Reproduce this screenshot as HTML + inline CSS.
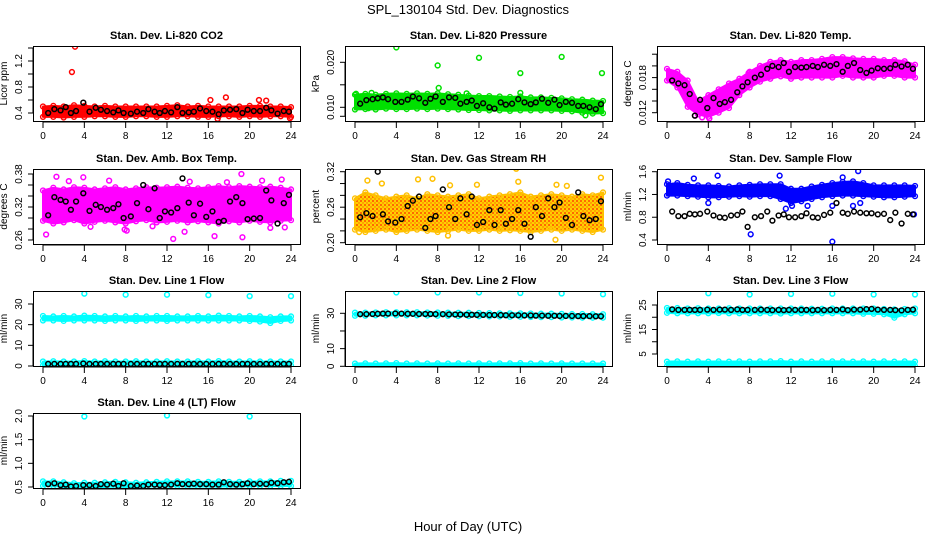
<!DOCTYPE html>
<html><head><meta charset="utf-8">
<style>
body{margin:0;background:#fff;}
svg{display:block;font-family:"Liberation Sans",Arial,sans-serif;}
.t{font-weight:bold;font-size:11px;text-anchor:middle;}
.tl{font-size:10px;text-anchor:middle;}
</style></head>
<body>
<svg id="c" width="936" height="540" viewBox="0 0 936 540">
<defs>
<pattern id="rhpat" width="4" height="4" patternUnits="userSpaceOnUse"><rect width="4" height="4" fill="#ffd000"/><circle cx="1" cy="1" r="0.9" fill="#ff2000"/><circle cx="3" cy="3" r="0.7" fill="#ff6000"/></pattern>
</defs>
<text x="468" y="14" font-size="13" text-anchor="middle">SPL_130104  Std. Dev. Diagnostics</text>
<text x="468" y="531" font-size="13" text-anchor="middle">Hour of Day (UTC)</text>
</svg>
<script>
const bandHours=[0,1,2,3,4,5,6,7,8,9,10,11,12,13,14,15,16,17,18,19,20,21,22,23,24];
const blackHours=[0.5,1.1,1.7,2.2,2.7,3.2,3.9,4.5,5.1,5.6,6.2,6.8,7.3,7.8,8.5,9.1,9.7,10.2,10.8,11.3,11.8,12.4,13,13.5,14.1,14.6,15.2,15.8,16.4,17,17.5,18.1,18.7,19.3,19.8,20.4,21,21.6,22.1,22.7,23.3,23.8];
const outlierHours4=[4,8,12,16,20,24];
const co2Lo=[0.34,0.34,0.33,0.34,0.34,0.35,0.35,0.34,0.34,0.35,0.35,0.34,0.34,0.35,0.35,0.34,0.34,0.35,0.35,0.34,0.35,0.34,0.35,0.35,0.34];
const co2Hi=[0.50,0.51,0.50,0.52,0.51,0.50,0.51,0.50,0.50,0.50,0.50,0.50,0.51,0.52,0.50,0.51,0.50,0.50,0.50,0.50,0.51,0.51,0.50,0.50,0.49];
const co2OutH=[2.8,3.1,16.2,17.7,20.9,21.6,16.9,23.9];
const co2OutV=[1.03,1.42,0.60,0.64,0.60,0.59,0.31,0.32];
const co2Black=[0.40,0.46,0.44,0.49,0.40,0.43,0.56,0.42,0.48,0.45,0.43,0.41,0.44,0.40,0.39,0.42,0.40,0.46,0.42,0.40,0.43,0.41,0.49,0.40,0.41,0.42,0.47,0.43,0.42,0.38,0.44,0.45,0.46,0.40,0.45,0.43,0.43,0.48,0.44,0.39,0.43,0.42];
const prLo=[0.0095,0.0096,0.0095,0.0097,0.0096,0.0096,0.0097,0.0096,0.0097,0.0096,0.0095,0.0094,0.0094,0.0093,0.0093,0.0092,0.0093,0.0093,0.0093,0.0093,0.0092,0.0091,0.0088,0.0086,0.0087];
const prHi=[0.0128,0.0130,0.0128,0.0130,0.0131,0.0130,0.0131,0.0130,0.0131,0.0129,0.0128,0.0126,0.0125,0.0125,0.0124,0.0123,0.0124,0.0122,0.0122,0.0121,0.0120,0.0118,0.0117,0.0115,0.0114];
const prOutH=[0.1,1.6,4.0,8.0,8.1,10.8,12.0,16.0,16.0,20.0,22.3,23.9,1.3];
const prOutV=[0.0130,0.0132,0.0233,0.0193,0.0143,0.0131,0.0210,0.0176,0.0132,0.0212,0.0082,0.0176,0.0098];
const prBlack=[0.0108,0.0116,0.0118,0.0120,0.0122,0.0118,0.0112,0.0112,0.0117,0.0124,0.0120,0.0110,0.0119,0.0124,0.0112,0.0122,0.0121,0.0108,0.0112,0.0115,0.0103,0.0109,0.0100,0.0097,0.0111,0.0106,0.0108,0.0118,0.0111,0.0107,0.0111,0.0119,0.0110,0.0117,0.0105,0.0112,0.0110,0.0103,0.0103,0.0100,0.0096,0.0107];
const tmLo=[0.0175,0.0163,0.0130,0.0117,0.0113,0.0120,0.0128,0.0150,0.0163,0.0173,0.0178,0.0182,0.0178,0.0180,0.0180,0.0180,0.0180,0.0183,0.0180,0.0180,0.0180,0.0183,0.0183,0.0180,0.0180];
const tmHi=[0.0195,0.0190,0.0175,0.0140,0.0150,0.0160,0.0170,0.0178,0.0190,0.0200,0.0207,0.0210,0.0207,0.0210,0.0210,0.0212,0.0215,0.0215,0.0213,0.0212,0.0212,0.0210,0.0210,0.0208,0.0202];
const tmOutH=[2.7,5.6,7.9,3.4,4.1];
const tmOutV=[0.0115,0.0160,0.0188,0.0112,0.0110];
const tmBlack=[0.0175,0.0170,0.0167,0.0152,0.0115,0.0142,0.0128,0.0145,0.0135,0.0138,0.0142,0.0155,0.0165,0.0172,0.0180,0.0185,0.0195,0.0200,0.0198,0.0205,0.0190,0.0198,0.0197,0.0198,0.0200,0.0198,0.0202,0.0200,0.0203,0.0190,0.0200,0.0205,0.0193,0.0188,0.0192,0.0196,0.0195,0.0196,0.0202,0.0199,0.0202,0.0195];
const abLo=[0.295,0.290,0.292,0.296,0.290,0.293,0.295,0.292,0.290,0.294,0.296,0.292,0.293,0.295,0.292,0.294,0.292,0.290,0.294,0.292,0.295,0.293,0.292,0.295,0.296];
const abHi=[0.350,0.355,0.352,0.356,0.355,0.352,0.354,0.356,0.352,0.354,0.356,0.355,0.356,0.357,0.355,0.354,0.356,0.358,0.356,0.358,0.357,0.356,0.357,0.355,0.352];
const abOutH=[0.3,1.3,3.9,4.6,7.9,8.1,10.6,12.6,13.7,16.6,19.3,19.2,22,23.4,23.1,2.5,6.4,14.2,17.8,21.2];
const abOutV=[0.270,0.375,0.374,0.284,0.279,0.277,0.285,0.262,0.275,0.267,0.265,0.380,0.282,0.283,0.370,0.367,0.368,0.366,0.365,0.368];
const abBlack=[0.305,0.338,0.333,0.330,0.315,0.330,0.345,0.313,0.324,0.320,0.315,0.318,0.325,0.300,0.303,0.327,0.360,0.316,0.354,0.300,0.312,0.310,0.318,0.372,0.328,0.305,0.326,0.302,0.312,0.293,0.295,0.330,0.338,0.327,0.298,0.299,0.300,0.350,0.332,0.290,0.327,0.342];
const rhLo=[0.222,0.218,0.220,0.222,0.218,0.220,0.222,0.220,0.218,0.220,0.222,0.220,0.220,0.222,0.220,0.221,0.220,0.218,0.220,0.222,0.220,0.222,0.220,0.218,0.222];
const rhHi=[0.275,0.285,0.280,0.275,0.278,0.280,0.275,0.282,0.280,0.278,0.280,0.282,0.275,0.278,0.280,0.282,0.285,0.278,0.280,0.282,0.280,0.278,0.282,0.280,0.285];
const rhOutH=[1.2,2.6,6.1,7.5,9.2,11.8,15.6,15.8,19.5,20.5,23.8,0.4,19.4,9.0];
const rhOutV=[0.305,0.300,0.307,0.308,0.297,0.298,0.325,0.303,0.298,0.296,0.310,0.218,0.205,0.212];
const rhBlack=[0.243,0.250,0.245,0.320,0.248,0.236,0.234,0.240,0.262,0.271,0.278,0.225,0.240,0.245,0.290,0.260,0.240,0.275,0.248,0.278,0.230,0.235,0.255,0.230,0.255,0.232,0.240,0.255,0.232,0.210,0.260,0.245,0.275,0.260,0.268,0.242,0.230,0.285,0.245,0.238,0.240,0.270];
const sfLo=[1.18,1.18,1.17,1.16,1.15,1.15,1.16,1.17,1.16,1.17,1.17,1.12,1.05,1.08,1.12,1.15,1.17,1.18,1.18,1.17,1.16,1.15,1.15,1.16,1.17];
const sfHi=[1.38,1.40,1.37,1.36,1.36,1.35,1.34,1.36,1.37,1.38,1.38,1.38,1.30,1.30,1.34,1.37,1.40,1.42,1.43,1.40,1.36,1.36,1.36,1.36,1.35];
const sfOutH=[0.1,2.6,4.9,10.9,8.1,16.0,18.5,17.0,4.0,12.1,11.5,16.0,18.0,23.9,13.6,18.7];
const sfOutV=[1.43,1.48,1.53,1.53,0.50,0.37,1.61,1.50,1.05,1.00,0.95,1.00,1.00,0.85,1.00,1.05];
const sfBlack=[0.90,0.82,0.82,0.86,0.85,0.86,0.90,0.83,0.80,0.79,0.83,0.84,0.90,0.63,0.80,0.82,0.90,0.74,0.83,0.85,0.80,0.80,0.82,0.87,0.80,0.79,0.84,0.88,1.05,0.88,0.86,0.90,0.88,0.87,0.87,0.85,0.86,0.75,0.88,0.69,0.86,0.85];
const l1Lo=[22.0,22.0,21.8,22.0,22.0,22.0,21.8,22.0,22.0,21.8,22.0,22.0,21.8,22.0,22.0,22.0,22.0,22.0,22.0,22.0,21.8,21.5,20.8,21.8,22.0];
const l1Hi=[24.2,24.0,24.2,24.0,24.4,24.2,24.0,24.2,24.0,24.2,24.0,24.2,24.2,24.0,24.0,24.2,24.0,24.4,24.2,24.0,24.2,24.0,23.6,24.0,24.0];
const l1LowLo=[0.2,0.2,0.2,0.2,0.2,0.2,0.2,0.2,0.2,0.2,0.2,0.2,0.2,0.2,0.2,0.2,0.2,0.2,0.2,0.2,0.2,0.2,0.2,0.2,0.2];
const l1LowHi=[2.2,2.3,2.2,2.2,2.4,2.2,2.3,2.2,2.2,2.3,2.2,2.2,2.3,2.2,2.2,2.3,2.2,2.4,2.2,2.2,2.3,2.2,2.2,2.2,2.2];
const l1OutV=[35.0,34.5,34.5,34.3,33.8,33.8];
const l1Black=[1,1,1,1,1,1,1.2,1,1,1,1,1,1,1,1,1,1,1,1,1,1,1,1,1,1,1,1,1,1,1,1,1,1,1,1,1,1,1,1,1,1,1];
const l2Lo=[28.6,28.6,28.8,28.8,28.8,28.8,28.8,28.7,28.6,28.5,28.4,28.4,28.3,28.2,28.2,28.0,28.0,27.9,27.8,27.8,27.6,27.6,27.5,27.5,27.5];
const l2Hi=[30.4,30.4,30.5,30.6,30.6,30.6,30.6,30.5,30.5,30.4,30.3,30.3,30.2,30.1,30.0,30.0,30.0,29.9,29.8,29.8,29.7,29.6,29.6,29.5,29.5];
const l2LowLo=[0,0,0,0,0,0,0,0,0,0,0,0,0,0,0,0,0,0,0,0,0,0,0,0,0];
const l2LowHi=[1.6,1.7,1.6,1.7,1.8,1.6,1.7,1.6,1.7,1.6,1.7,1.6,1.7,1.6,1.7,1.7,1.8,1.6,1.7,1.6,1.7,1.6,1.6,1.6,1.6];
const l2OutV=[41.8,41.8,41.8,41.5,41.2,40.8];
const l2Black=[29.5,29.5,29.6,29.7,29.8,29.8,29.9,29.8,29.7,29.7,29.6,29.6,29.6,29.5,29.5,29.4,29.3,29.3,29.2,29.2,29.1,29.1,29.0,29.0,29.0,28.9,28.9,28.9,28.8,28.8,28.7,28.7,28.6,28.6,28.5,28.5,28.5,28.4,28.4,28.4,28.3,28.3];
const l3Lo=[21.8,21.6,21.6,21.6,21.6,21.7,21.6,21.6,21.6,21.6,21.6,21.5,21.6,21.6,21.6,21.6,21.6,21.6,21.6,21.4,21.4,21.2,19.8,21.2,21.6];
const l3Hi=[23.8,23.8,23.6,23.7,23.6,23.6,23.7,23.6,23.6,23.6,23.6,23.6,23.6,23.6,23.5,23.5,23.6,23.6,23.6,23.6,23.6,23.4,23.2,23.4,23.6];
const l3LowLo=[0,0,0,0,0,0,0,0,0,0,0,0,0,0,0,0,0,0,0,0,0,0,0,0,0];
const l3LowHi=[1.9,2.0,1.9,2.0,1.9,2.0,1.9,2.0,1.9,2.0,2.0,2.1,1.9,2.0,1.9,2.0,2.0,2.0,1.9,2.0,1.9,2.0,1.9,2.0,1.9];
const l3OutV=[29.8,29.3,29.5,29.6,29.3,29.3];
const l3Black=[23.2,23.0,23.0,23.0,23.0,23.0,23.1,23.0,23.1,23.1,23.0,23.2,23.0,23.0,23.0,23.1,23.0,22.9,23.0,22.9,23.0,23.0,23.0,23.0,22.9,23.0,22.9,23.0,23.0,23.2,22.9,23.1,23.1,23.3,23.4,23.1,23.0,23.0,22.9,22.8,23.0,23.1];
const l4Lo=[0.52,0.52,0.50,0.50,0.49,0.50,0.50,0.51,0.50,0.50,0.51,0.51,0.51,0.52,0.51,0.51,0.51,0.51,0.51,0.51,0.52,0.52,0.52,0.52,0.52];
const l4Hi=[0.62,0.62,0.60,0.58,0.59,0.59,0.60,0.61,0.60,0.59,0.60,0.61,0.62,0.62,0.62,0.61,0.61,0.62,0.61,0.61,0.62,0.62,0.62,0.63,0.63];
const l4OutH=[4,12,20];
const l4OutV=[1.99,2.01,1.99];
const l4Black=[0.56,0.58,0.54,0.55,0.51,0.52,0.54,0.54,0.52,0.56,0.55,0.57,0.52,0.58,0.52,0.53,0.52,0.55,0.55,0.54,0.54,0.55,0.58,0.56,0.56,0.57,0.56,0.56,0.55,0.55,0.60,0.56,0.55,0.56,0.58,0.56,0.57,0.56,0.59,0.58,0.60,0.61];

const svg=document.getElementById('c');
const NS='http://www.w3.org/2000/svg';
function mk(tag,attrs,parent){const e=document.createElementNS(NS,tag);for(const k in attrs)e.setAttribute(k,attrs[k]);(parent||svg).appendChild(e);return e;}

function panel(p){
  const g=mk('g',{});
  
  
  const L=[33,345,657][p.col], T=[46,169,291,413][p.row], W=267, H=75, B=T+H;
  const x0=L+10;
  const X=h=>x0+h*(248/24);
  const Y=v=>p.p0+(v-p.v0)*(p.p1-p.p0)/(p.v1-p.v0);
  const cid='clip'+p.name;
  const cp=mk('clipPath',{id:cid},g);mk('rect',{x:L,y:T,width:W,height:H},cp);
  const data=mk('g',{'clip-path':'url(#'+cid+')'},g);
  function band(lo,hi,col,nm,fill){
    let pts=bandHours.map((h,i)=>X(h)+','+Y(hi[i]));
    for(let i=bandHours.length-1;i>=0;i--)pts.push(X(bandHours[i])+','+Y(lo[i]));
    const poly=mk('polygon',{points:pts.join(' '),fill:fill||col,stroke:col,'stroke-width':2,'stroke-linejoin':'round'},data);
    
    
    bandHours.forEach((h,i)=>{[lo[i],hi[i]].forEach(v=>{const c=mk('circle',{cx:X(h),cy:Y(v),r:2.4,fill:'none',stroke:col,'stroke-width':1.4},data);
      
      });});
  }
  function pts(hs,vs,col,nm){
    hs.forEach((h,i)=>{const c=mk('circle',{cx:X(h),cy:Y(vs[i]),r:2.4,fill:'none',stroke:col,'stroke-width':1.5},data);
      
      });
  }
  p.draw(band,pts);
  const r=mk('rect',{x:L+0.5,y:T+0.5,width:W,height:H,fill:'none',stroke:'#000','stroke-width':1},g);
  
  
  const t=mk('text',{x:L+W/2,y:T-7,class:'t'},g);t.textContent=p.title;
  
  
  [0,4,8,12,16,20,24].forEach(h=>{
    mk('line',{x1:X(h),x2:X(h),y1:B+1,y2:B+7,stroke:'#000'},g);
    const tx=mk('text',{x:X(h),y:B+18,class:'tl'},g);tx.textContent=h;
    
    
  });
  mk('line',{x1:X(0),x2:X(24),y1:B+1,y2:B+1,stroke:'#000'},g);
  const ys=p.ticks.map(Y);
  mk('line',{x1:L,x2:L,y1:Math.min(...ys),y2:Math.max(...ys),stroke:'#000'},g);
  p.ticks.forEach((v,i)=>{
    mk('line',{x1:L-5,x2:L,y1:Y(v),y2:Y(v),stroke:'#000'},g);
    if(p.labels[i]!==''){const tx=mk('text',{x:L-11,y:Y(v),class:'tl',transform:'rotate(-90 '+(L-11)+' '+Y(v)+')'},g);tx.textContent=p.labels[i];
      
      }
  });
  const yt=mk('text',{x:L-26,y:T+H/2,class:'tl',transform:'rotate(-90 '+(L-26)+' '+(T+H/2)+')'},g);yt.textContent=p.ylab;
  
  
}
const RED='#ff0000',GRN='#00e000',MAG='#ff00ff',BLU='#0000ff',CYN='#00ffff',ORG='#ffc000';
panel({name:'panel-co2',row:0,col:0,title:'Stan. Dev. Li-820 CO2',ylab:'Licor ppm',v0:0.4,p0:113,v1:1.2,p1:61,ticks:[0.4,0.6,0.8,1.0,1.2,1.4],labels:['0.4','','0.8','','1.2',''],
 draw:(band,pts)=>{band(co2Lo,co2Hi,RED,'co2-series');pts(co2OutH,co2OutV,RED,'co2-outlier');pts(blackHours,co2Black,'#000','co2-hourly');}});
panel({name:'panel-pressure',row:0,col:1,title:'Stan. Dev. Li-820 Pressure',ylab:'kPa',v0:0.010,p0:107.3,v1:0.020,p1:62.3,ticks:[0.008,0.010,0.015,0.020],labels:['','0.010','','0.020'],
 draw:(band,pts)=>{band(prLo,prHi,GRN,'pressure-series');pts(prOutH,prOutV,GRN,'pressure-outlier');pts(blackHours,prBlack,'#000','pressure-hourly');}});
panel({name:'panel-li820-temp',row:0,col:2,title:'Stan. Dev. Li-820 Temp.',ylab:'degrees C',v0:0.012,p0:112.7,v1:0.018,p1:77.6,ticks:[0.012,0.014,0.016,0.018,0.020,0.022],labels:['0.012','','','0.018','',''],
 draw:(band,pts)=>{band(tmLo,tmHi,MAG,'temp-series');pts(tmOutH,tmOutV,MAG,'temp-outlier');pts(blackHours,tmBlack,'#000','temp-hourly');}});
panel({name:'panel-amb-box',row:1,col:0,title:'Stan. Dev. Amb. Box Temp.',ylab:'degrees C',v0:0.26,p0:240,v1:0.38,p1:174,ticks:[0.26,0.28,0.30,0.32,0.34,0.36,0.38],labels:['0.26','','','0.32','','','0.38'],
 draw:(band,pts)=>{band(abLo,abHi,MAG,'ambbox-series');pts(abOutH,abOutV,MAG,'ambbox-outlier');pts(blackHours,abBlack,'#000','ambbox-hourly');}});
panel({name:'panel-rh',row:1,col:1,title:'Stan. Dev. Gas Stream RH',ylab:'percent',v0:0.20,p0:242.7,v1:0.32,p1:171.7,ticks:[0.20,0.22,0.24,0.26,0.28,0.30,0.32],labels:['0.20','','','0.26','','','0.32'],
 draw:(band,pts)=>{band(rhLo,rhHi,ORG,'rh-series','url(#rhpat)');pts(rhOutH,rhOutV,ORG,'rh-outlier');pts(blackHours,rhBlack,'#000','rh-hourly');}});
panel({name:'panel-sample-flow',row:1,col:2,title:'Stan. Dev. Sample Flow',ylab:'ml/min',v0:0.4,p0:240,v1:1.6,p1:171.7,ticks:[0.4,0.8,1.2,1.6],labels:['0.4','0.8','1.2','1.6'],
 draw:(band,pts)=>{band(sfLo,sfHi,BLU,'sampleflow-series');pts(sfOutH,sfOutV,BLU,'sampleflow-outlier');pts(blackHours,sfBlack,'#000','sampleflow-hourly');}});
panel({name:'panel-line1',row:2,col:0,title:'Stan. Dev. Line 1 Flow',ylab:'ml/min',v0:0,p0:366,v1:30,p1:304,ticks:[0,10,20,30],labels:['0','10','20','30'],
 draw:(band,pts)=>{band(l1Lo,l1Hi,CYN,'line1-series');band(l1LowLo,l1LowHi,CYN,'line1-low-series');pts(outlierHours4,l1OutV,CYN,'line1-outlier');pts(blackHours,l1Black,'#000','line1-hourly');}});
panel({name:'panel-line2',row:2,col:1,title:'Stan. Dev. Line 2 Flow',ylab:'ml/min',v0:0,p0:366.3,v1:30,p1:313.3,ticks:[0,10,20,30],labels:['0','10','','30'],
 draw:(band,pts)=>{band(l2Lo,l2Hi,CYN,'line2-series');band(l2LowLo,l2LowHi,CYN,'line2-low-series');pts(outlierHours4,l2OutV,CYN,'line2-outlier');pts(blackHours,l2Black,'#000','line2-hourly');}});
panel({name:'panel-line3',row:2,col:2,title:'Stan. Dev. Line 3 Flow',ylab:'ml/min',v0:5,p0:354,v1:25,p1:305,ticks:[5,10,15,20,25],labels:['5','','15','','25'],
 draw:(band,pts)=>{band(l3Lo,l3Hi,CYN,'line3-series');band(l3LowLo,l3LowHi,CYN,'line3-low-series');pts(outlierHours4,l3OutV,CYN,'line3-outlier');pts(blackHours,l3Black,'#000','line3-hourly');}});
panel({name:'panel-line4',row:3,col:0,title:'Stan. Dev. Line 4 (LT) Flow',ylab:'ml/min',v0:0.5,p0:487,v1:2.0,p1:416,ticks:[0.5,1.0,1.5,2.0],labels:['0.5','1.0','1.5','2.0'],
 draw:(band,pts)=>{band(l4Lo,l4Hi,CYN,'line4-series');pts(l4OutH,l4OutV,CYN,'line4-outlier');pts(blackHours,l4Black,'#000','line4-hourly');}});
</script>
</body></html>
